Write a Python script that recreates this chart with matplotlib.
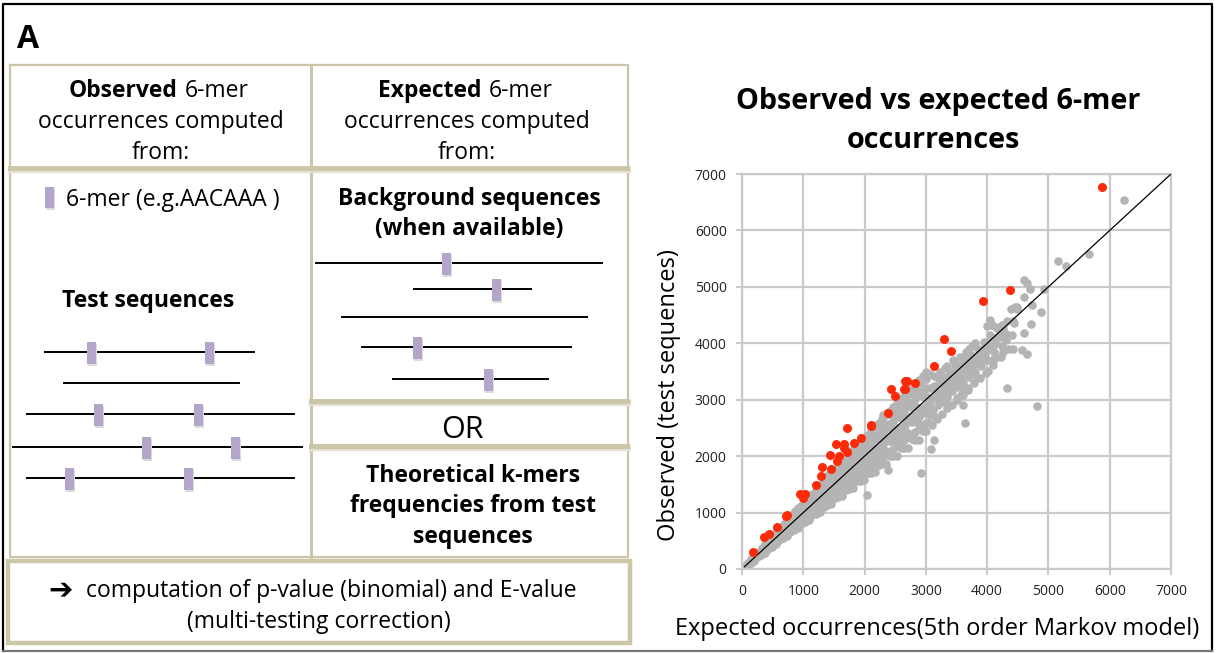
import matplotlib
matplotlib.use('Agg')
import matplotlib.pyplot as plt
from matplotlib.patches import Rectangle
import numpy as np

plt.rcParams['font.family'] = ['Open Sans', 'DejaVu Sans']

# significant 6-mers (red)
red_pts = [(5880, 6764), (4368, 4940), (3930, 4751), (3288, 4072), (3408, 3872),
           (3132, 3606), (2652, 3335), (2700, 3335), (2820, 3300), (2664, 3187),
           (2640, 3190), (2436, 3193), (2496, 3069), (2376, 2762), (2112, 2555),
           (2100, 2526), (1716, 2497), (1944, 2314), (1824, 2225), (1530, 2207),
           (1662, 2207), (1668, 2137), (1716, 2066), (1434, 2018), (1590, 2007),
           (1548, 1918), (1302, 1800), (1452, 1776), (1284, 1652), (1212, 1493),
           (942, 1328), (1032, 1328), (1002, 1257), (732, 950), (720, 932),
           (564, 744), (444, 626), (354, 567), (180, 295)]

# dense band of non-significant 6-mers (grey), read column by column
band_pts = [
    (40, 30), (45, 50), (90, 75), (85, 95), (95, 110),
    (140, 113), (145, 130), (135, 145), (140, 160), (150, 170),
    (190, 150), (195, 172), (185, 188), (190, 210), (200, 226),
    (250, 208), (255, 236), (245, 262), (250, 288),
    (310, 250), (315, 283), (305, 318), (310, 345), (320, 372),
    (370, 292), (375, 332), (365, 366), (370, 405), (380, 437),
    (430, 357), (435, 400), (425, 447), (430, 492),
    (490, 397), (495, 455), (485, 500), (490, 545), (500, 588),
    (550, 435), (555, 492), (545, 545), (550, 602), (560, 649),
    (610, 506), (615, 570), (605, 636), (610, 692),
    (670, 543), (675, 618), (665, 683), (670, 748), (680, 804),
    (730, 577), (735, 652), (725, 721), (730, 798), (740, 861),
    (790, 656), (795, 740), (785, 825), (790, 898),
    (850, 689), (855, 785), (845, 865), (850, 955), (860, 1020),
    (910, 719), (915, 808), (905, 903), (910, 990), (920, 1074),
    (970, 805), (975, 915), (965, 1006), (970, 1108),
    (1030, 834), (1035, 945), (1025, 1053), (1030, 1150), (1040, 1236),
    (1090, 861), (1095, 973), (1085, 1076), (1090, 1190), (1100, 1280),
    (1150, 955), (1155, 1078), (1145, 1199), (1150, 1308),
    (1210, 980), (1215, 1116), (1205, 1231), (1210, 1357), (1220, 1445),
    (1270, 1003), (1275, 1128), (1265, 1260), (1270, 1381), (1280, 1495),
    (1330, 1104), (1335, 1253), (1325, 1380), (1330, 1518),
    (1390, 1126), (1395, 1276), (1385, 1421), (1390, 1555), (1400, 1662),
    (1450, 1146), (1455, 1294), (1445, 1433), (1450, 1584), (1460, 1705),
    (1510, 1253), (1515, 1416), (1505, 1573), (1510, 1718),
    (1570, 1272), (1575, 1447), (1565, 1598), (1570, 1761), (1580, 1878),
    (1630, 1288), (1635, 1448), (1625, 1617), (1630, 1774), (1640, 1918),
    (1690, 1403), (1695, 1592), (1685, 1755), (1690, 1930),
    (1750, 1418), (1755, 1607), (1745, 1788), (1750, 1957), (1760, 2090),
    (1810, 1430), (1815, 1614), (1805, 1789), (1810, 1976), (1820, 2128),
    (1870, 1552), (1875, 1755), (1865, 1948), (1870, 2129),
    (1930, 1563), (1935, 1779), (1925, 1966), (1930, 2165), (1940, 2305),
    (1990, 1572), (1995, 1768), (1985, 1973), (1990, 2166), (2000, 2340),
    (2050, 1702), (2055, 1930), (2045, 2129), (2050, 2340),
    (2110, 1709), (2115, 1938), (2105, 2155), (2110, 2360), (2120, 2520),
    (2170, 1714), (2175, 1934), (2165, 2145), (2170, 2368), (2180, 2550),
    (2230, 1851), (2235, 2093), (2225, 2322), (2230, 2540),
    (2290, 1855), (2295, 2110), (2285, 2333), (2290, 2568), (2300, 2730),
    (2350, 1857), (2355, 2089), (2345, 2330), (2350, 2560), (2360, 2760),
    (2410, 2000), (2415, 2268), (2405, 2503), (2410, 2750),
    (2470, 2001), (2475, 2269), (2465, 2522), (2470, 2763), (2480, 2840),
    (2530, 1999), (2535, 2255), (2525, 2502), (2530, 2761), (2540, 2900),
    (2590, 2150), (2595, 2432), (2585, 2697), (2590, 2950),
    (2650, 2147), (2655, 2441), (2645, 2700), (2650, 2971), (2660, 3050),
    (2710, 2141), (2715, 2409), (2705, 2686), (2710, 2951), (2720, 3110),
    (2770, 2299), (2775, 2607), (2765, 2878), (2770, 3160),
    (2830, 2292), (2835, 2601), (2825, 2890), (2830, 3167), (2840, 3250),
    (2890, 2283), (2895, 2575), (2885, 2858), (2890, 3153), (2900, 3300),
    (2950, 2449), (2955, 2770), (2945, 3071), (2950, 3360),
    (3010, 2438), (3015, 2772), (3005, 3067), (3010, 3374),
    # second pass, points between the first ones
    (730, 628), (735, 704), (725, 777), (730, 847),
    (790, 679), (795, 762), (785, 841), (790, 916),
    (850, 731), (855, 820), (845, 905), (850, 986),
    (910, 783), (915, 878), (905, 969), (910, 1056),
    (970, 834), (975, 936), (965, 1033), (970, 1125),
    (1030, 886), (1035, 994), (1025, 1097), (1030, 1195),
    (1090, 937), (1095, 1052), (1085, 1161), (1090, 1264),
    (1150, 989), (1155, 1110), (1145, 1225), (1150, 1334),
    (1210, 1041), (1215, 1168), (1205, 1289), (1210, 1404),
    (1270, 1092), (1275, 1226), (1265, 1353), (1270, 1473),
    (1330, 1144), (1335, 1283), (1325, 1416), (1330, 1543),
    (1390, 1195), (1395, 1341), (1385, 1480), (1390, 1612),
    (1450, 1247), (1455, 1399), (1445, 1544), (1450, 1682),
    (1510, 1299), (1515, 1457), (1505, 1608), (1510, 1752),
    (1570, 1350), (1575, 1515), (1565, 1672), (1570, 1821),
    (1630, 1402), (1635, 1573), (1625, 1736), (1630, 1891),
    (1690, 1453), (1695, 1631), (1685, 1800), (1690, 1960),
    (1750, 1505), (1755, 1689), (1745, 1864), (1750, 2030),
    (1810, 1557), (1815, 1747), (1805, 1928), (1810, 2100),
    (1870, 1608), (1875, 1805), (1865, 1992), (1870, 2169),
    (1930, 1660), (1935, 1862), (1925, 2055), (1930, 2239),
    (1990, 1711), (1995, 1920), (1985, 2119), (1990, 2308),
    (2050, 1763), (2055, 1978), (2045, 2183), (2050, 2378),
    (2110, 1815), (2115, 2036), (2105, 2247), (2110, 2448),
    (2170, 1866), (2175, 2094), (2165, 2311), (2170, 2517),
    (2230, 1918), (2235, 2152), (2225, 2375), (2230, 2587),
    (2290, 1969), (2295, 2210), (2285, 2439), (2290, 2656),
    (2350, 2021), (2355, 2268), (2345, 2503), (2350, 2726),
    (2410, 2073), (2415, 2326), (2405, 2567), (2410, 2796),
    (2470, 2124), (2475, 2384), (2465, 2631), (2470, 2865),
    (2530, 2176), (2535, 2441), (2525, 2694), (2530, 2935),
    (2590, 2227), (2595, 2499), (2585, 2758), (2590, 3004),
    (2650, 2279), (2655, 2557), (2645, 2822), (2650, 3074),
    (2710, 2331), (2715, 2615), (2705, 2886), (2710, 3144),
    (2770, 2382), (2775, 2673), (2765, 2950), (2770, 3213),
    (2830, 2434), (2835, 2731), (2825, 3014), (2830, 3283),
    (2890, 2485), (2895, 2789), (2885, 3078), (2890, 3352),
    (2950, 2537), (2955, 2847), (2945, 3142), (2950, 3422),
    (3010, 2589), (3015, 2905), (3005, 3206), (3010, 3492),
    (600, 560), (1255, 1180), (1800, 1700), (2210, 2000), (2620, 2500),
    (2300, 2420), (1500, 1340), (1120, 1010), (2000, 1880), (2440, 2380),
    (2760, 2720), (1680, 1520), (880, 820), (2560, 2300), (2880, 2700),
]

# sparser grey cloud above 3000 and isolated grey points
spread_pts = [
    (3040, 2600), (3050, 2900), (3060, 3200), (3070, 3450),
    (3100, 2550), (3110, 2820), (3120, 3050), (3130, 3250), (3140, 3420),
    (3180, 2650), (3190, 2900), (3200, 3120), (3210, 3350), (3230, 3500),
    (3260, 2750), (3270, 2980), (3290, 3200), (3300, 3400), (3310, 3560),
    (3340, 2850), (3350, 3050), (3370, 3280), (3390, 3480),
    (3420, 2900), (3430, 3150), (3450, 3350), (3470, 3560), (3480, 3650),
    (3500, 3000), (3520, 3230), (3540, 3420), (3560, 3600),
    (3580, 3080), (3600, 3300), (3620, 3500), (3640, 3700), (3660, 3850),
    (3680, 3180), (3700, 3400), (3720, 3600), (3740, 3800), (3760, 3950),
    (3780, 3300), (3800, 3500), (3820, 3680), (3850, 3900),
    (3880, 3380), (3900, 3600), (3920, 3800), (3950, 4020),
    (3980, 3480), (4000, 3700), (4020, 3900), (4040, 4150), (4060, 4320),
    (4100, 3620), (4120, 3850), (4150, 4100), (4180, 4250),
    (4220, 3750), (4250, 3950), (4280, 4200), (4320, 4400),
    (4360, 3900), (4400, 4150), (4430, 4400), (4480, 4600),
    (3070, 2750), (3090, 3000), (3150, 2700), (3160, 3150), (3220, 3000),
    (3240, 3300), (3280, 3100), (3320, 3350), (3330, 2950), (3380, 3150),
    (3400, 3400), (3440, 3250), (3460, 3450), (3510, 3300), (3530, 3550),
    (3570, 3400), (3590, 3200), (3610, 3650), (3650, 3450), (3670, 3600),
    (3710, 3500), (3730, 3700), (3770, 3600), (3790, 3750), (3840, 3650),
    (3860, 3800), (3900, 3700), (3930, 3900), (3970, 3800), (4010, 4000),
    (4070, 3950), (4090, 4100), (4130, 3980), (4200, 4120), (4240, 4320),
    (4310, 4050), (3560, 3750), (3450, 3700), (3350, 3600), (3700, 3900),
    (3800, 4000),
    (6240, 6533), (5664, 5589), (5160, 5454), (5280, 5365), (4600, 5129),
    (4644, 5070), (4692, 4958), (4920, 4970), (4602, 4816), (4740, 4686),
    (4392, 4610), (4450, 4640), (4494, 4650), (4872, 4550), (4440, 4356),
    (4722, 4344), (4608, 4179), (4302, 4167), (4422, 3895), (4572, 3884),
    (4644, 3813), (4260, 3842), (4116, 3718), (4020, 3512), (4320, 3199),
    (3690, 3211), (3612, 3087), (3600, 2910), (4812, 2886), (3636, 2585),
    (3132, 2290), (3084, 2131), (2922, 1700), (2376, 1747), (2040, 1304),
    (4000, 4300), (4080, 4330), (4150, 4290), (3504, 3025), (3830, 3408),
    (4129, 3733), (4047, 4412), (4254, 4283), (4292, 4130),
]

axis_ticks = [0, 1000, 2000, 3000, 4000, 5000, 6000, 7000]

grey_pts = np.array(band_pts + spread_pts)
red_arr = np.array(red_pts)

tan = '#cbc6a8'
lav = '#b3a6ca'
fs = 16.5

fig = plt.figure(figsize=(12.16, 6.53), dpi=100)

# schematic panel drawn in pixel coordinates
ax0 = fig.add_axes([0, 0, 1, 1])
ax0.set_xlim(0, 1216)
ax0.set_ylim(653, 0)
ax0.axis('off')

# figure frame
ax0.plot([3, 3, 1212, 1212], [651, 4, 4, 651], color='black', lw=1.6)
ax0.plot([3, 1212], [651, 651], color='#777777', lw=1.6)

ax0.text(17, 48, 'A', fontsize=23, fontweight='bold', va='baseline')

# table boxes
ax0.plot([10, 628, 628, 10, 10], [65, 65, 557, 557, 65], color=tan, lw=1.6)
ax0.plot([311, 311], [65, 557], color=tan, lw=2.2)
for y0, x_start in [(168, 10), (401, 311), (446, 311)]:
    ax0.plot([x_start + 1, 628], [y0 + 1.5, y0 + 1.5], color='#e4e1d3', lw=4.5)
    ax0.plot([x_start, 627], [y0, y0], color=tan, lw=3.5)
ax0.add_patch(Rectangle((8, 561), 622, 82, fill=False, edgecolor=tan, lw=3.2))

# header texts
ax0.text(178, 97, 'Observed', fontsize=fs, fontweight='bold', ha='right', va='baseline')
ax0.text(185, 97, '6-mer', fontsize=fs, ha='left', va='baseline')
ax0.text(161, 128, 'occurrences computed', fontsize=fs, ha='center', va='baseline')
ax0.text(161, 159, 'from:', fontsize=fs, ha='center', va='baseline')
ax0.text(482, 97, 'Expected', fontsize=fs, fontweight='bold', ha='right', va='baseline')
ax0.text(489, 97, '6-mer', fontsize=fs, ha='left', va='baseline')
ax0.text(467, 128, 'occurrences computed', fontsize=fs, ha='center', va='baseline')
ax0.text(467, 159, 'from:', fontsize=fs, ha='center', va='baseline')


def kmer_mark(x, y_top, h=22):
    ax0.add_patch(Rectangle((x - 3.2, y_top + 2), 9, h, color='#dcdcdc', lw=0, zorder=2))
    ax0.add_patch(Rectangle((x - 4.5, y_top), 9, h, color=lav, lw=0, zorder=3))


kmer_mark(49, 187, 21)
ax0.text(66, 206, '6-mer (e.g.AACAAA )', fontsize=fs, va='baseline')
ax0.text(148, 307, 'Test sequences', fontsize=fs, fontweight='bold', ha='center', va='baseline')
ax0.text(469, 205, 'Background sequences', fontsize=fs, fontweight='bold', ha='center', va='baseline')
ax0.text(469, 235, '(when available)', fontsize=fs, fontweight='bold', ha='center', va='baseline')

# test sequences: (y, x_start, x_end, mark positions)
test_seqs = [(352, 45, 254, [91, 209]), (383, 64, 239, []), (414, 27, 294, [98, 198]),
             (447, 13, 302, [146, 235]), (478, 27, 294, [69, 188])]
bg_seqs = [(263, 316, 602, [446]), (289, 414, 531, [496]), (317, 342, 587, []),
           (347, 362, 571, [417]), (379, 393, 548, [488])]
for y0, xa, xb, marks in test_seqs + bg_seqs:
    ax0.plot([xa, xb], [y0, y0], color='black', lw=1.4, zorder=1)
    for xm in marks:
        kmer_mark(xm, y0 - 10)

ax0.text(462, 438, 'OR', fontsize=22, ha='center', va='baseline')
ax0.text(473, 482, 'Theoretical k-mers', fontsize=fs, fontweight='bold', ha='center', va='baseline')
ax0.text(473, 512, 'frequencies from test', fontsize=fs, fontweight='bold', ha='center', va='baseline')
ax0.text(473, 543, 'sequences', fontsize=fs, fontweight='bold', ha='center', va='baseline')
ax0.text(48, 598, '\u2794', fontsize=21, fontweight='bold', family='DejaVu Sans', va='baseline')
ax0.text(331, 597, 'computation of p-value (binomial) and E-value', fontsize=fs,
         ha='center', va='baseline')
ax0.text(319, 628, '(multi-testing correction)', fontsize=fs, ha='center', va='baseline')

# scatter plot
ax = fig.add_axes([742 / 1216, 1 - 569 / 653, 429 / 1216, 395 / 653])
ax.scatter(grey_pts[:, 0], grey_pts[:, 1], s=38, color='#b4b4b4', linewidths=0, zorder=2)
ax.plot([40, 7000], [40, 7000], color='black', lw=0.9, zorder=3)
ax.scatter(red_arr[:, 0], red_arr[:, 1], s=42, color='#fb2a08', linewidths=0, zorder=4)
ax.set_xlim(0, 7000)
ax.set_ylim(0, 7000)
ax.set_xticks(axis_ticks)
ax.set_yticks(axis_ticks)
ax.grid(True, color='#cacaca', lw=1.6, zorder=0)
ax.set_axisbelow(True)
for sp in ax.spines.values():
    sp.set_color('#cacaca')
    sp.set_linewidth(1.6)
ax.tick_params(length=4, width=1.4, color='#cacaca', labelsize=10, pad=7, labelcolor='#222222')

ax.set_xlabel('Expected occurrences(5th order Markov model)', fontsize=17)
ax.xaxis.set_label_coords(0.455, -0.122)
ax.set_ylabel('Observed (test sequences)', fontsize=17)
ax.yaxis.set_label_coords(-0.142, 0.44)
ax0.text(938, 109, 'Observed vs expected 6-mer', fontsize=20.7, fontweight='bold',
         ha='center', va='baseline')
ax0.text(933, 148, 'occurrences', fontsize=20.7, fontweight='bold', ha='center', va='baseline')

fig.savefig('out.png', dpi=100)
